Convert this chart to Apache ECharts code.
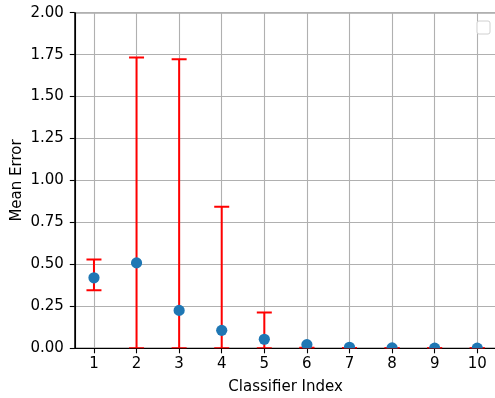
<!DOCTYPE html>
<html>
<head>
<meta charset="utf-8">
<script src="https://cdn.jsdelivr.net/npm/echarts@6/dist/echarts.min.js"></script>
<style>
  html, body { margin: 0; padding: 0; background: #fff; }
  #chart { width: 495px; height: 398px; }
</style>
</head>
<body>
<div id="chart"></div>
<script>
// ---- data ----
const categories = [1, 2, 3, 4, 5, 6, 7, 8, 9, 10];
const meanError  = [0.42, 0.509, 0.226, 0.107, 0.054, 0.022, 0.006, 0.002, 0.001, 0.0005];
const errLow     = [0.346, 0, 0, 0, 0, 0, 0, 0, 0, 0];
const errHigh    = [0.529, 1.733, 1.723, 0.844, 0.213, 0.003, 0.002, 0.001, 0.001, 0.001];
const yTicks     = [0, 0.25, 0.5, 0.75, 1.0, 1.25, 1.5, 1.75, 2.0];
const xLabel = 'Classifier Index';
const yLabel = 'Mean Error';

const FONT = 'DejaVu Sans';
const FS = 15;
const chart = echarts.init(document.getElementById('chart'), null, { renderer: 'canvas' });

const seriesData = categories.map((c, i) => [c, meanError[i], errLow[i], errHigh[i]]);

const option = {
  animation: false,
  backgroundColor: '#fff',
  grid: {
    left: 74.8, top: 12.7, width: 421.6, height: 335.6,
    outerBoundsMode: 'none', containLabel: false,
    show: true, borderColor: '#000', borderWidth: 1.1, backgroundColor: 'transparent'
  },
  xAxis: {
    type: 'value',
    min: 0.55, max: 10.45,
    name: xLabel, nameLocation: 'middle', nameGap: 31, nameMoveOverlap: false,
    nameTextStyle: { fontFamily: FONT, fontSize: FS, color: '#000' },
    axisLine: { show: true, lineStyle: { color: '#000', width: 1.1 } },
    axisTick: { show: true, length: 5, lineStyle: { color: '#000', width: 1.1 }, customValues: categories },
    axisLabel: { show: true, customValues: categories, fontFamily: FONT, fontSize: FS, color: '#000', margin: 8 },
    splitLine: { show: true, lineStyle: { color: '#b0b0b0', width: 1.1 } }
  },
  yAxis: {
    type: 'value',
    min: yTicks[0], max: yTicks[yTicks.length - 1], interval: 0.25,
    name: yLabel, nameLocation: 'middle', nameGap: 50, nameRotate: 90, nameMoveOverlap: false,
    nameTextStyle: { fontFamily: FONT, fontSize: FS, color: '#000' },
    axisLine: { show: true, lineStyle: { color: '#000', width: 1.1 } },
    axisTick: { show: true, length: 5, lineStyle: { color: '#000', width: 1.1 } },
    axisLabel: { fontFamily: FONT, fontSize: FS, color: '#000', margin: 11,
                 formatter: v => v.toFixed(2) },
    splitLine: { show: true, lineStyle: { color: '#b0b0b0', width: 1.1 } }
  },
  graphic: [{
    type: 'rect', left: 476.5, top: 20.5,
    shape: { width: 13, height: 13, r: 2 },
    style: { fill: '#fff', stroke: '#d0d0d0', lineWidth: 1 }, z: 100
  }],
  series: [{
    type: 'custom',
    clip: true,
    data: seriesData,
    encode: { x: 0, y: [1, 2, 3] },
    renderItem: function (params, api) {
      const x = api.value(0);
      const pMean = api.coord([x, api.value(1)]);
      const pLow = api.coord([x, api.value(2)]);
      const pHigh = api.coord([x, api.value(3)]);
      const half = 7.5;
      const red = { stroke: '#ff0000', lineWidth: 2 };
      return {
        type: 'group',
        children: [
          { type: 'line', shape: { x1: pLow[0], y1: pLow[1], x2: pHigh[0], y2: pHigh[1] }, style: red },
          { type: 'line', shape: { x1: pLow[0] - half, y1: pLow[1], x2: pLow[0] + half, y2: pLow[1] }, style: red },
          { type: 'line', shape: { x1: pHigh[0] - half, y1: pHigh[1], x2: pHigh[0] + half, y2: pHigh[1] }, style: red },
          { type: 'circle', shape: { cx: pMean[0], cy: pMean[1], r: 5.6 }, style: { fill: '#1f77b4' } }
        ]
      };
    }
  }]
};
chart.setOption(option);
</script>
</body>
</html>
